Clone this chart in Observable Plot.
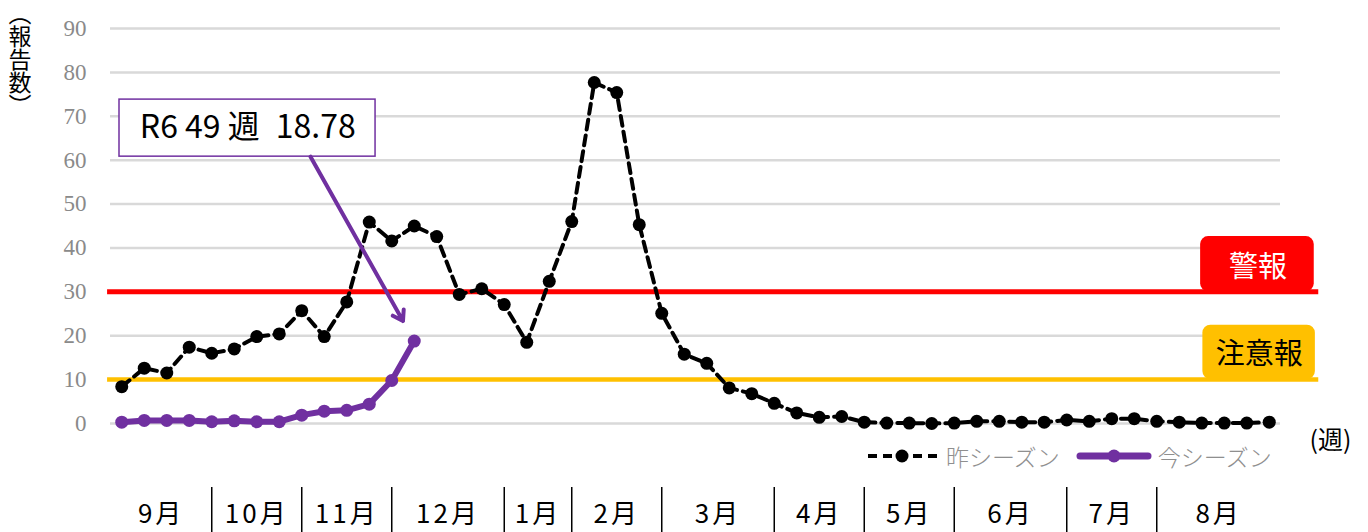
<!DOCTYPE html>
<html>
<head>
<meta charset="utf-8">
<script src="https://cdn.jsdelivr.net/npm/d3@7"></script>
<script src="https://cdn.jsdelivr.net/npm/@observablehq/plot@0.6"></script>
<style>
  html, body { margin: 0; padding: 0; background: #fff; }
  #wrap { position: relative; width: 1368px; height: 532px; overflow: hidden; font-family: "Noto Sans CJK JP", sans-serif; }
  #ytitle { position: absolute; left: 7px; top: 2px; writing-mode: vertical-rl; font-size: 23px; line-height: 26px; color: #000; }
  #legend { position: absolute; left: 866px; top: 442px; height: 28px; display: flex; align-items: center; font-size: 23px; color: #8f8f8f; font-weight: 300; white-space: nowrap; }
  #legend svg { display: block; }
  #legend span { margin: 0 6px 0 6px; }
</style>
</head>
<body>
<div id="wrap">
  <div id="ytitle">（報告数）</div>
  <div id="legend"></div>
</div>
<script>
// ---- data ----
const weeks = [36,37,38,39,40,41,42,43,44,45,46,47,48,49,50,51,52,1,2,3,4,5,6,7,8,9,10,11,12,13,14,15,16,17,18,19,20,21,22,23,24,25,26,27,28,29,30,31,32,33,34,35];
const lastSeason = [8.4,12.6,11.5,17.4,16.0,17.0,19.8,20.4,25.7,19.8,27.7,45.9,41.6,45.0,42.6,29.4,30.7,27.1,18.5,32.4,46.0,77.7,75.4,45.3,25.1,15.8,13.7,8.1,6.8,4.6,2.4,1.4,1.6,0.3,0.1,0.1,0.0,0.1,0.5,0.5,0.3,0.3,0.8,0.5,1.1,1.1,0.5,0.3,0.1,0.1,0.1,0.3];
const thisSeason = [0.3,0.7,0.7,0.7,0.4,0.6,0.4,0.4,1.9,2.8,3.0,4.4,9.8,18.78];
const seriesNames = ["昨シーズン", "今シーズン"];
const yTicks = [0,10,20,30,40,50,60,70,80,90];
const monthLabels = ["9月","10月","11月","12月","1月","2月","3月","4月","5月","6月","7月","8月"];
const monthBoundaries = [4, 8, 12, 17, 20, 24, 29, 33, 37, 42, 46]; // week index where a month begins
const thresholdLabels = ["警報", "注意報"];
const thresholdValues = [30, 10];

// ---- derived tables ----
const lastRows = lastSeason.map((v, i) => ({i, week: weeks[i], v}));
const thisRows = thisSeason.map((v, i) => ({i, week: weeks[i], v}));
const edges = [-0.5, ...monthBoundaries, 51.5];
const monthRows = monthLabels.map((m, k) => ({m, x: (edges[k] + edges[k + 1]) / 2}));
const lastIdx = thisRows.length - 1;
const annText = `R6 ${weeks[lastIdx]} 週\u2002${thisSeason[lastIdx]}`;

const RED = "#ff0000", ORANGE = "#ffc000", PURPLE = "#7030a0";

const plot = Plot.plot({
  width: 1368,
  height: 532,
  marginLeft: 110,
  marginRight: 88,
  marginTop: 28,
  marginBottom: 109,
  x: {domain: [-0.5, 51.5], axis: null},
  y: {domain: [0, 90], axis: null},
  style: {background: "transparent", overflow: "visible", fontFamily: "Noto Sans CJK JP"},
  marks: [
    Plot.gridY(yTicks, {stroke: "#d9d9d9", strokeOpacity: 1, strokeWidth: 2.5}),
    Plot.text(yTicks, {y: d => d, text: d => String(d), frameAnchor: "left", textAnchor: "end", dx: -24, fontFamily: "Liberation Serif", fontSize: 23, fill: "#8a8a8a"}),
    // threshold badges
    Plot.rect([0], {x1: 47.95, x2: 53.0, y1: thresholdValues[0], y2: thresholdValues[0] + 12.6, fill: RED, rx: 8}),
    Plot.rect([0], {x1: 48.05, x2: 53.05, y1: thresholdValues[1], y2: thresholdValues[1] + 12.4, fill: ORANGE, rx: 8}),
    Plot.text([thresholdLabels[0]], {x: 50.5, y: thresholdValues[0] + 5.4, text: d => d, fill: "white", fontSize: 29}),
    Plot.text([thresholdLabels[1]], {x: 50.55, y: thresholdValues[1] + 5.6, text: d => d, fill: "black", fontSize: 29}),
    // threshold lines
    Plot.ruleY([thresholdValues[0]], {x1: -0.63, x2: 53.2, stroke: RED, strokeWidth: 5}),
    Plot.ruleY([thresholdValues[1]], {x1: -0.63, x2: 53.2, stroke: ORANGE, strokeWidth: 4.5}),
    // last season
    Plot.line(lastRows, {x: "i", y: "v", stroke: "black", strokeWidth: 4, strokeDasharray: "10,6"}),
    Plot.dot(lastRows, {x: "i", y: "v", r: 6.5, fill: "black"}),
    // this season
    Plot.line(thisRows, {x: "i", y: "v", stroke: PURPLE, strokeWidth: 6}),
    Plot.dot(thisRows, {x: "i", y: "v", r: 6.5, fill: PURPLE}),
    // annotation
    Plot.rect([0], {x1: -0.1, x2: 11.28, y1: 60.8, y2: 73.8, fill: "white", stroke: PURPLE, strokeWidth: 1.5}),
    Plot.text([annText], {x: 5.6, y: 67.3, text: d => d, fontSize: 32, fill: "black"}),
    Plot.arrow([thisRows[lastIdx]], {x1: 8.39, y1: 60.8, x2: "i", y2: "v", insetEnd: 23, stroke: PURPLE, strokeWidth: 4, headLength: 4.3, headAngle: 66, bend: 0}),
    // month row
    Plot.axisX(monthBoundaries, {tickSize: 46, dy: 64, tickFormat: () => "", label: null, stroke: "black", strokeWidth: 1.5}),
    Plot.text(monthRows, {x: "x", text: "m", frameAnchor: "bottom", lineAnchor: "middle", dy: 91, fontSize: 26, fill: "black"}),
    // week unit label
    Plot.text(["(週)"], {frameAnchor: "bottom-right", textAnchor: "middle", lineAnchor: "middle", text: d => d, dx: 50, dy: 17, fontSize: 25, fill: "black"})
  ]
});

document.getElementById("wrap").prepend(plot);
plot.style.position = "absolute";
plot.style.left = "0";
plot.style.top = "0";
d3.select(plot).selectAll("text").filter(function() { return monthLabels.includes(this.textContent); }).style("letter-spacing", "3px");
document.getElementById("ytitle").style.zIndex = 2;
const lg = document.getElementById("legend");
lg.style.zIndex = 2;
lg.innerHTML =
  `<svg width="74" height="20"><line x1="2" x2="72" y1="10" y2="10" stroke="#000" stroke-width="4" stroke-dasharray="9,6"/><circle cx="36" cy="10" r="6.5" fill="#000"/></svg>` +
  `<span>${seriesNames[0]}</span>` +
  `<svg width="76" height="20" style="margin-left:10px"><line x1="4" x2="72" y1="10" y2="10" stroke="${PURPLE}" stroke-width="7" stroke-linecap="round"/><circle cx="38" cy="10" r="6.5" fill="${PURPLE}"/></svg>` +
  `<span>${seriesNames[1]}</span>`;
</script>
</body>
</html>
